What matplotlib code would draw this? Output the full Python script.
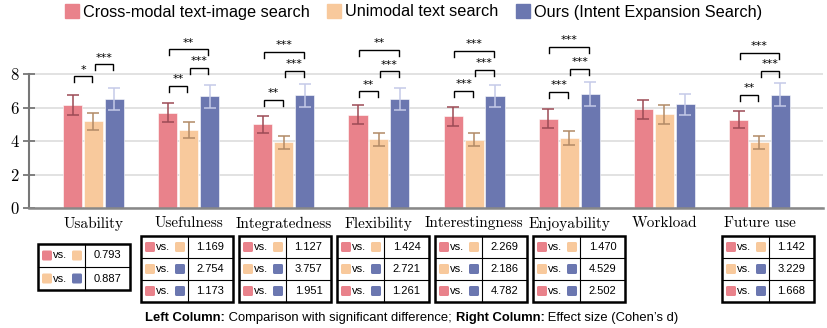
import matplotlib
matplotlib.use('Agg')
import matplotlib.pyplot as plt
import matplotlib.patches as mpatches
from matplotlib.lines import Line2D
import numpy as np

# ---- data ----
criteria = ['Usability', 'Usefulness', 'Integratedness', 'Flexibility',
            'Interestingness', 'Enjoyability', 'Workload', 'Future use']
series = ['Cross-modal text-image search', 'Unimodal text search',
          'Ours (Intent Expansion Search)']

cross_mean = [6.15, 5.70, 5.00, 5.58, 5.47, 5.34, 5.89, 5.28]
cross_err = [0.62, 0.57, 0.50, 0.58, 0.55, 0.55, 0.58, 0.53]
uni_mean = [5.18, 4.66, 3.92, 4.10, 4.08, 4.20, 5.59, 3.92]
uni_err = [0.51, 0.48, 0.38, 0.40, 0.40, 0.42, 0.57, 0.38]
ours_mean = [6.50, 6.67, 6.73, 6.50, 6.67, 6.83, 6.19, 6.77]
ours_err = [0.66, 0.68, 0.68, 0.66, 0.66, 0.72, 0.63, 0.70]

# significance brackets: (criterion, bar a, bar b, height, label)
brackets = [
    (0, 0, 1, 7.86, '*'), (0, 1, 2, 8.58, '***'),
    (1, 0, 1, 7.28, '**'), (1, 1, 2, 8.36, '***'), (1, 0, 2, 9.47, '**'),
    (2, 0, 1, 6.47, '**'), (2, 1, 2, 8.18, '***'), (2, 0, 2, 9.31, '***'),
    (3, 0, 1, 6.97, '**'), (3, 1, 2, 8.16, '***'), (3, 0, 2, 9.46, '**'),
    (4, 0, 1, 6.99, '***'), (4, 1, 2, 8.24, '***'), (4, 0, 2, 9.40, '***'),
    (5, 0, 1, 6.93, '***'), (5, 1, 2, 8.32, '***'), (5, 0, 2, 9.61, '***'),
    (7, 0, 1, 6.77, '**'), (7, 1, 2, 8.20, '***'), (7, 0, 2, 9.28, '***'),
]

# effect size tables (Cohen's d): pairs and values per criterion
table_pairs = {
    'Usability': [(0, 1), (1, 2)],
    'Usefulness': [(0, 1), (1, 2), (0, 2)],
    'Integratedness': [(0, 1), (1, 2), (0, 2)],
    'Flexibility': [(0, 1), (1, 2), (0, 2)],
    'Interestingness': [(0, 1), (1, 2), (0, 2)],
    'Enjoyability': [(0, 1), (1, 2), (0, 2)],
    'Future use': [(0, 1), (1, 2), (0, 2)],
}
table_values = {
    'Usability': ['0.793', '0.887'],
    'Usefulness': ['1.169', '2.754', '1.173'],
    'Integratedness': ['1.127', '3.757', '1.951'],
    'Flexibility': ['1.424', '2.721', '1.261'],
    'Interestingness': ['2.269', '2.186', '4.782'],
    'Enjoyability': ['1.470', '4.529', '2.502'],
    'Future use': ['1.142', '3.229', '1.668'],
}

# ---- style ----
BAR_COLORS = ['#E9828B', '#F8C99C', '#6B77B0']
ERR_COLORS = ['#9C4A55', '#B28A66', '#C5CAE8']
SERIF = 'cmr10'
SANS = 'Liberation Sans'

plt.rcParams.update({
    'axes.formatter.use_mathtext': True,
    'font.family': SANS,
})

W, H = 827, 328
fig = plt.figure(figsize=(W / 100, H / 100), dpi=100)

# main axes placed in pixel terms
ax_left, ax_right, y0_px, px_per_unit = 29, 823, 208, 16.75
ymax = 10
ax = fig.add_axes([ax_left / W, 1 - y0_px / H, (ax_right - ax_left) / W,
                   px_per_unit * ymax / H])

x = np.arange(len(criteria))
width = 0.2
offset = 0.22
means = [cross_mean, uni_mean, ours_mean]
errs = [cross_err, uni_err, ours_err]

for k in range(3):
    xs = x + (k - 1) * offset
    ax.bar(xs, means[k], width, color=BAR_COLORS[k], edgecolor='white',
           linewidth=0.4, zorder=2)
    ax.errorbar(xs, means[k], yerr=errs[k], fmt='none', ecolor=ERR_COLORS[k],
                elinewidth=1.1, capsize=4.6, capthick=1.1, zorder=3)

for g, a, b, yb, lab in brackets:
    xa = g + (a - 1) * offset + 0.012
    xb = g + (b - 1) * offset - 0.012
    h = 0.36
    ax.plot([xa, xa, xb, xb], [yb - h, yb, yb, yb - h], color='black',
            lw=1.0, solid_joinstyle='miter', clip_on=False, zorder=4)
    ax.text((xa + xb) / 2, yb + 0.1, lab, ha='center', va='bottom',
            fontsize=8, family='DejaVu Sans', clip_on=False)

ax.set_xlim((ax_left - 93.5) / 95.14, (ax_right - 93.5) / 95.14)
ax.set_ylim(0, ymax)
ax.set_yticks([0, 2, 4, 6, 8])
ax.set_yticklabels(['0', '2', '4', '6', '8'], fontsize=12)
ax.set_xticks(x)
ax.set_xticklabels(criteria, fontsize=11)
ax.tick_params(labelfontfamily=SERIF)
ax.tick_params(axis='x', length=0, pad=6)
ax.tick_params(axis='y', direction='inout', length=9, width=1.3,
               color='#777777', pad=3)
ax.grid(axis='y', color='#DDDDDD', lw=1.2, zorder=0)
ax.set_axisbelow(True)
for s in ['top', 'right']:
    ax.spines[s].set_visible(False)
ax.spines['left'].set_bounds(0, 8)
ax.spines['left'].set_color('#777777')
ax.spines['left'].set_linewidth(1.5)
ax.spines['bottom'].set_color('#888888')
ax.spines['bottom'].set_linewidth(1.8)
ax.set_facecolor('none')

# legend
handles = [Line2D([], [], marker='s', ls='none', markersize=10,
                  markerfacecolor=c, markeredgecolor=c) for c in BAR_COLORS]
fig.legend(handles, series, loc='center', bbox_to_anchor=(413 / W, 1 - 12 / H),
           ncol=3, frameon=False, fontsize=11.7, handletextpad=0.2,
           columnspacing=1.0, handlelength=1.0, borderaxespad=0)

# overlay in pixel coords for the tables and caption
ov = fig.add_axes([0, 0, 1, 1], zorder=-1)
ov.set_xlim(0, W)
ov.set_ylim(H, 0)
ov.axis('off')

table_pos = {
    'Usability': (38, 244, 23),
    'Usefulness': (141, 236, 22),
    'Integratedness': (239, 236, 22),
    'Flexibility': (337, 236, 22),
    'Interestingness': (435, 236, 22),
    'Enjoyability': (533, 236, 22),
    'Future use': (722, 236, 22),
}
left_w, right_w = 47, 45


def square(px, py, c):
    ov.add_patch(mpatches.FancyBboxPatch((px + 1, py - 4), 8, 8,
                                         boxstyle='round,pad=1,rounding_size=1.5',
                                         facecolor=c, edgecolor='none'))


for name, pairs in table_pairs.items():
    tx, ty, rh = table_pos[name]
    n = len(pairs)
    tw = left_w + right_w
    th = n * rh
    for i, (a, b) in enumerate(pairs):
        cy = ty + (i + 0.5) * rh
        square(tx + 4, cy, BAR_COLORS[a])
        ov.text(tx + 15, cy, 'vs.', fontsize=8, va='center', ha='left')
        square(tx + 34, cy, BAR_COLORS[b])
        ov.text(tx + left_w + right_w / 2, cy, table_values[name][i],
                fontsize=8, va='center', ha='center')
        if i > 0:
            ov.plot([tx, tx + tw], [ty + i * rh] * 2, color='black', lw=0.8)
    ov.plot([tx + left_w] * 2, [ty, ty + th], color='black', lw=0.8)
    ov.add_patch(mpatches.Rectangle((tx, ty), tw, th, facecolor='none',
                                    edgecolor='black', lw=1.8))

# caption with bold pieces
pieces = [('Left Column:', 'bold'), (' Comparison with significant difference; ', 'normal'),
          ('Right Column:', 'bold'), (' Effect size (Cohen\u2019s d)', 'normal')]
renderer = fig.canvas.get_renderer()
texts = [ov.text(0, 318, s, fontsize=9.4, fontweight=w, va='center', ha='left')
         for s, w in pieces]
widths = [t.get_window_extent(renderer).width for t in texts]
cx = 412 - sum(widths) / 2
for t, wd in zip(texts, widths):
    t.set_x(cx)
    cx += wd

fig.savefig('out.png', dpi=100)
